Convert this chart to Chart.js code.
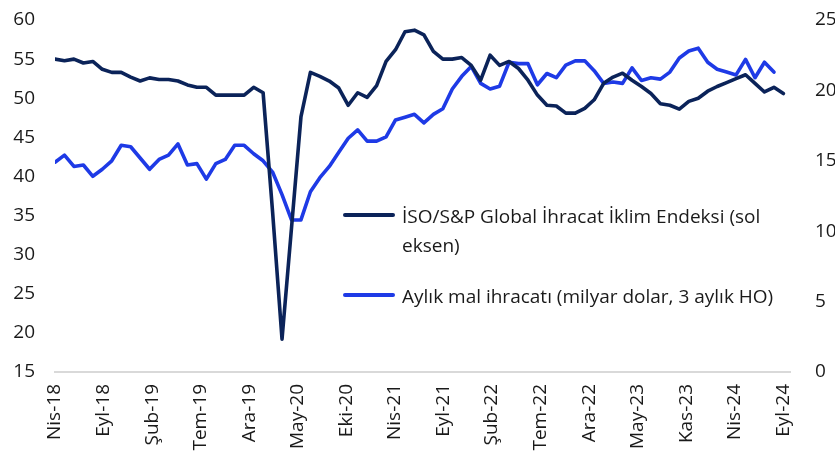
<!DOCTYPE html>
<html><head><meta charset="utf-8">
<script src="https://cdn.jsdelivr.net/npm/chart.js@4/dist/chart.umd.min.js"></script>
<style>
html,body{margin:0;padding:0;background:#fff;overflow:hidden;width:835px;height:472px;}
#wrap{position:absolute;left:0;top:0;width:850px;height:472px;}
.sw{position:absolute;left:343px;width:52px;height:4px;border-radius:2px;}
.txt{position:absolute;left:402px;font-family:'Open Sans',sans-serif;font-size:19px;line-height:28.5px;color:#1a1a1a;white-space:nowrap;}
</style></head><body>
<div id="wrap"><canvas id="c" width="850" height="472"></canvas></div>
<div class="sw" style="top:213px;background:#0b2359"></div>
<div class="txt" style="top:202px">İSO/S&amp;P Global İhracat İklim Endeksi (sol<br>eksen)</div>
<div class="sw" style="top:293px;background:#1e3ae6"></div>
<div class="txt" style="top:282px">Aylık mal ihracatı (milyar dolar, 3 aylık HO)</div>
<script>
// Monthly data, Nis-18 (index 0) ... Eyl-24 (index 77)
const tickLabels = ['Nis-18','Eyl-18','Şub-19','Tem-19','Ara-19','May-20','Eki-20','Nis-21','Eyl-21','Şub-22','Tem-22','Ara-22','May-23','Kas-23','Nis-24','Eyl-24'];
const isoExportClimate = [55.0,54.8,55.0,54.5,54.7,53.7,53.3,53.3,52.7,52.2,52.6,52.4,52.4,52.2,51.7,51.4,51.4,50.4,50.4,50.4,50.4,51.4,50.7,35.5,19.2,33.4,47.6,53.3,52.8,52.2,51.3,49.1,50.7,50.1,51.6,54.7,56.2,58.5,58.7,58.1,56.0,55.0,55.0,55.2,54.2,52.3,55.5,54.2,54.7,53.8,52.3,50.4,49.1,49.0,48.1,48.1,48.7,49.8,51.9,52.7,53.2,52.3,51.5,50.6,49.3,49.1,48.6,49.6,50.0,50.9,51.5,52.0,52.5,53.0,51.9,50.8,51.4,50.6];
const monthlyExports3m = [14.9,15.4,14.6,14.7,13.9,14.4,15.0,16.1,16.0,15.2,14.4,15.1,15.4,16.2,14.7,14.8,13.7,14.8,15.1,16.1,16.1,15.5,15.0,14.2,12.6,10.8,10.8,12.8,13.8,14.6,15.6,16.6,17.2,16.4,16.4,16.7,17.9,18.1,18.3,17.7,18.3,18.7,20.1,21.0,21.7,20.5,20.1,20.3,22.0,21.9,21.9,20.4,21.2,20.9,21.8,22.1,22.1,21.4,20.5,20.6,20.5,21.6,20.7,20.9,20.8,21.3,22.3,22.8,23.0,22.0,21.5,21.3,21.1,22.2,20.9,22.0,21.3];
const lastMonthIndex = 77;

const tickFont = {family:"'Open Sans', sans-serif", size:19};
const textColor = '#1a1a1a';

function fitY(width){ return s=>{ s.width = width; s.paddingTop = 0; s.paddingBottom = 0; }; }

new Chart(document.getElementById('c'), {
  type:'line',
  data:{datasets:[
    {label:'İSO/S&P Global İhracat İklim Endeksi (sol eksen)', data: isoExportClimate.map((v,i)=>({x:i,y:v})),
     borderColor:'#0b2359', borderWidth:3.6, pointRadius:0, tension:0, yAxisID:'y', borderJoinStyle:'round', borderCapStyle:'round'},
    {label:'Aylık mal ihracatı (milyar dolar, 3 aylık HO)', data: monthlyExports3m.map((v,i)=>({x:i,y:v})),
     borderColor:'#1e3ae6', borderWidth:3.6, pointRadius:0, tension:0, yAxisID:'y1', borderJoinStyle:'round', borderCapStyle:'round'}
  ]},
  options:{
    responsive:false, animation:false, devicePixelRatio:1,
    layout:{padding:{top:20,left:0,right:0,bottom:0}},
    plugins:{legend:{display:false}, tooltip:{enabled:false}},
    scales:{
      x:{type:'linear', min:0, max:lastMonthIndex+0.7,
        afterBuildTicks:s=>{ s.ticks = tickLabels.map((l,i)=>({value:i*lastMonthIndex/(tickLabels.length-1)})); },
        ticks:{autoSkip:false, maxRotation:90, minRotation:90, padding:12, font:tickFont, color:textColor,
          callback:(v,i)=>tickLabels[i]},
        grid:{display:false, drawTicks:false}, border:{display:true, color:'#d9d9d9', width:2},
        afterFit:s=>{ s.height = 100; s.paddingLeft = 0; s.paddingRight = 0; }
      },
      y:{position:'left', min:15, max:60, ticks:{stepSize:5, padding:20, font:tickFont, color:textColor},
        grid:{display:false, drawTicks:false}, border:{display:false}, afterFit:fitY(55)},
      y1:{position:'right', min:0, max:25, ticks:{stepSize:5, padding:25, font:tickFont, color:textColor},
        grid:{display:false, drawTicks:false}, border:{display:false}, afterFit:fitY(60)}
    }
  }
});
</script>
</body></html>
